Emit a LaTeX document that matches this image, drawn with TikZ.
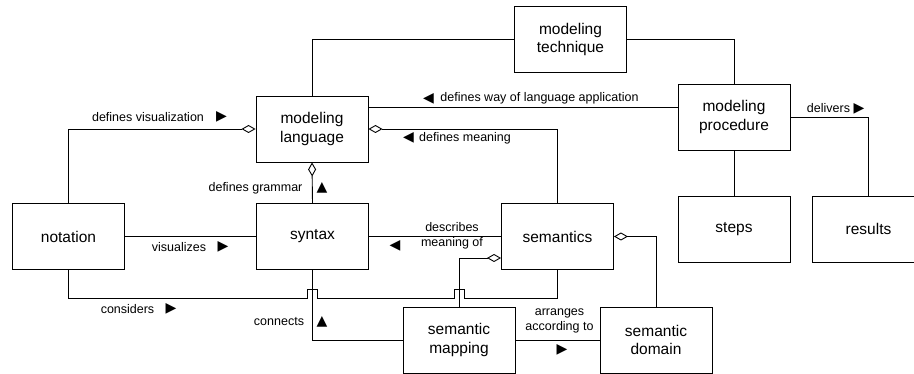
\documentclass[tikz,border=0pt]{standalone}
\usepackage{fontspec}
\setmainfont{Liberation Sans}
\newfontfamily\trifont{DejaVu Sans}
\usetikzlibrary{arrows.meta}
\tikzset{
  mod_box/.style = {draw=black, line width=0.9pt, minimum width=112pt,
    minimum height=66pt, align=center, inner sep=0pt,
    font=\fontsize{15.5}{18.5}\selectfont},% concept
  mod_lbl/.style = {inner sep=0pt, align=center,
    font=\fontsize{12.5}{15}\selectfont},% libelle d'association
  mod_tri/.style = {inner sep=0pt, font=\trifont\fontsize{14}{14}\selectfont},% sens de lecture
  mod_agg/.style = {{Diamond[open,length=14pt,width=8pt]}-}% agregation
}

\begin{document}
\begin{tikzpicture}[x=1pt, y=-1pt, line width=0.9pt]
\path[use as bounding box, fill=white] (0,0) rectangle (914,374);

\node [mod_box] (tech) at (570.5,39.5) {modeling\\technique};
\node [mod_box] (lang) at (312,129) {modeling\\language};
\node [mod_box] (proc) at (734,117) {modeling\\procedure};
\node [mod_box] (notation) at (68.5,236.5) {notation};
\node [mod_box] (syntax) at (312.5,236.5) {syntax};
\node [mod_box] (semantics) at (557.5,236.5) {semantics};
\node [mod_box] (steps) at (734,229) {steps};
\node [mod_box] (results) at (868.5,229) {results};
\node [mod_box] (mapping) at (459,340) {semantic\\mapping};
\node [mod_box] (domain) at (656,340) {semantic\\domain};

\coordinate (bus) at (0,298);
\coordinate (hopA) at (syntax.south |- bus);
\coordinate (hopB) at (mapping.north |- bus);

\draw (lang.north) |- (tech.west);
\draw (tech.east) -| (proc.north);
\draw ([yshift=22pt]lang.east) -- ([yshift=22pt]lang.east -| proc.west);
\draw [mod_agg] (lang.west) -| (notation.north);
\draw [mod_agg] (lang.east) -| (semantics.north);
\draw [mod_agg] (lang.south) -- (syntax.north);
\draw (notation.east) -- (syntax.west);
\draw (syntax.east) -- (semantics.west);
\draw (notation.south) |- ([xshift=-5pt]hopA) -- ++(0,-9) -- ++(10,0) -- ++(0,9)
  -- ([xshift=-5pt]hopB) -- ++(0,-9) -- ++(10,0) -- ++(0,9) -| (semantics.south);
\draw (syntax.south) |- (mapping.west);
\draw [mod_agg] ([yshift=-21.5pt]semantics.west) -| (mapping.north);
\draw [mod_agg] (semantics.east) -| (domain.north);
\draw (mapping.east) -- (domain.west);
\draw (proc.south) -- (steps.north);
\draw (proc.east) -| (results.north);

\node [mod_lbl] (l_vis) at (148,117) {defines visualization};
\node [mod_tri] (t_vis) at (221.5,117) {▶};
\node [mod_tri] (t_way) at (428.5,98.5) {◀};
\node [mod_lbl] (l_way) at (539.5,98) {defines way of language application};
\node [mod_tri] (t_mean) at (408.5,138) {◀};
\node [mod_lbl] (l_mean) at (465,138) {defines meaning};
\node [mod_lbl] (l_gram) at (255.5,188) {defines grammar};
\node [mod_tri] (t_gram) at (322,188) {▲};
\node [mod_lbl] (l_visz) at (179,247) {visualizes};
\node [mod_tri] (t_visz) at (223,247) {▶};
\node [mod_tri] (t_desc) at (395,246) {◀};
\node [mod_lbl] (l_desc) at (452,235.5) {describes\\meaning of};
\node [mod_lbl] (l_cons) at (127.5,309) {considers};
\node [mod_tri] (t_cons) at (171,309) {▶};
\node [mod_lbl] (l_conn) at (279,322) {connects};
\node [mod_tri] (t_conn) at (322,322) {▲};
\node [mod_lbl] (l_arr) at (559.5,320.5) {arranges\\according to};
\node [mod_tri] (t_arr) at (562,350) {▶};
\node [mod_lbl] (l_del) at (828.5,108) {delivers};
\node [mod_tri] (t_del) at (859,108.5) {▶};
\end{tikzpicture}
\end{document}
